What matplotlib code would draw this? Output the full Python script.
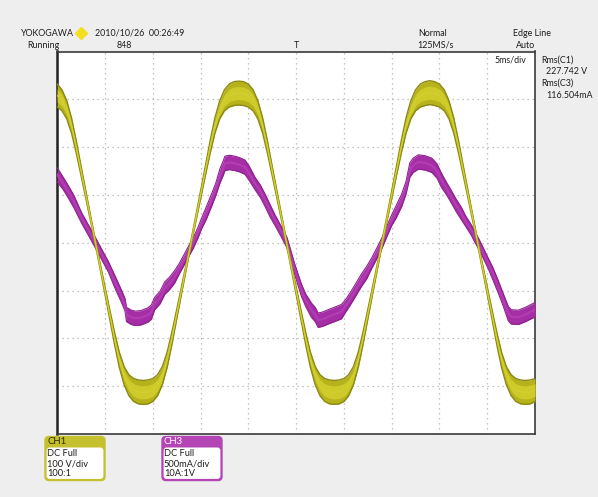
import numpy as np
import matplotlib
matplotlib.use("Agg")
import matplotlib.pyplot as plt
from matplotlib.patches import FancyBboxPatch

plt.rcParams['font.family'] = ['Lato', 'DejaVu Sans']

# ---------------- data read from the screen ----------------
# CH1 : voltage trace (centre of the persistence band, V) sampled every 0.5 ms
ch1_time_ms = np.round(np.arange(0, 50.01, 0.5), 2)
ch1_volt = [308, 298, 278, 245, 200, 150, 100, 50, 0, -50, -100, -150, -200, -245, -278, -298, -308, -312, -313, -312,
            -308, -298, -278, -245, -200, -150, -100, -50, 0, 50, 100, 150, 200, 245, 278, 298, 308, 312, 313, 312,
            308, 298, 278, 245, 200, 150, 100, 50, 0, -50, -100, -150, -200, -245, -278, -298, -308, -312, -313, -312,
            -308, -298, -278, -245, -200, -150, -100, -50, 0, 50, 100, 150, 200, 245, 278, 298, 308, 312, 314, 312,
            308, 298, 278, 245, 200, 150, 100, 50, 0, -50, -100, -150, -200, -245, -278, -298, -308, -312, -313, -312,
            -308]
# half spread of the persistence band (V)
ch1_spread = [24, 22, 19, 16, 13, 10, 8, 6, 5, 6, 8, 10, 13, 16, 19, 22, 24, 25, 25, 25,
              24, 22, 19, 16, 13, 10, 8, 6, 5, 6, 8, 10, 13, 16, 19, 22, 24, 25, 25, 25,
              24, 22, 19, 16, 13, 10, 8, 6, 5, 6, 8, 10, 13, 16, 19, 22, 24, 25, 25, 25,
              24, 22, 19, 16, 13, 10, 8, 6, 5, 6, 8, 10, 13, 16, 19, 22, 24, 25, 25, 25,
              24, 22, 19, 16, 13, 10, 8, 6, 5, 6, 8, 10, 13, 16, 19, 22, 24, 25, 25, 25,
              24]

# CH3 : current trace (centre of band, mA)
ch3_time_ms = [0, 0.6, 1.15, 1.75, 2.55, 3.25, 4.0, 4.75, 5.35, 6.0,
               6.75, 7.1, 7.25, 7.75, 8.15, 8.75, 9.5, 9.85, 10.2, 10.75,
               11.25, 11.75, 12.3, 12.75, 13.35, 13.75, 14.25, 14.75, 15.1, 15.6,
               16.15, 16.6, 17.05, 17.35, 17.55, 18.0, 18.6, 19.1, 19.65, 20.1,
               20.7, 21.25, 21.75, 22.25, 22.8, 23.4, 24.05, 24.85, 25.55, 26.0,
               26.6, 27.0, 27.3, 27.75, 28.35, 29.0, 29.75, 30.25, 30.8, 31.25,
               31.85, 32.4, 32.9, 33.5, 34.0, 34.5, 35.0, 35.5, 36.05, 36.5,
               36.9, 37.25, 37.8, 38.5, 39.2, 39.75, 40.2, 40.75, 41.25, 41.75,
               42.3, 42.75, 43.35, 43.7, 44.05, 44.5, 45.1, 45.6, 46.15, 46.65,
               47.2, 47.5, 48.25, 49.0, 49.5, 50.0]
ch3_current = [710, 625, 535, 430, 260, 135, 0, -140, -250, -400,
               -565, -650, -750, -780, -790, -785, -755, -725, -635, -575,
               -475, -425, -355, -275, -165, -90, 0, 110, 200, 310,
               445, 560, 705, 775, 830, 840, 830, 815, 790, 725,
               620, 540, 445, 340, 235, 125, 0, -275, -495, -600,
               -705, -750, -810, -800, -775, -750, -720, -650, -565, -490,
               -390, -310, -215, -100, 0, 120, 235, 330, 445, 575,
               760, 810, 845, 835, 810, 750, 655, 565, 480, 390,
               305, 225, 130, 60, 0, -90, -215, -325, -460, -590,
               -740, -775, -780, -750, -725, -700]

# scope settings
MS_PER_DIV = 5.0
V_PER_DIV = 100.0
MA_PER_DIV = 500.0

# ---------------- figure ----------------
W, H = 598, 497
fig = plt.figure(figsize=(W / 100, H / 100), dpi=100, facecolor='#eeeeee')
L, R, T, B = 57.2, 535.0, 51.5, 434.0
ax = fig.add_axes([L / W, 1 - B / H, (R - L) / W, (B - T) / H])
ax.set_facecolor('white')
ax.set_xlim(0, 10)
ax.set_ylim(-4, 4)
ax.set_xticks([])
ax.set_yticks([])
for s in ax.spines.values():
    s.set_color('#3a3a3a')
    s.set_linewidth(1.2)
ax.spines['left'].set_linewidth(1.8)
ax.spines['left'].set_color('#222222')

for k in range(1, 10):
    ax.axvline(k, color='#b0b0b0', lw=0.9, ls=(0, (1, 3.0)), zorder=1)
for k in range(-3, 4):
    ax.axhline(k, color='#b0b0b0', lw=0.9, ls=(0, (1, 3.0)), zorder=1)

# CH3 band
t3 = np.asarray(ch3_time_ms) / MS_PER_DIV
c3 = np.asarray(ch3_current, float) / MA_PER_DIV
half3 = np.where(np.abs(c3) > 1.3, 0.15, np.where(np.abs(c3) > 0.6, 0.13, 0.11))
ax.fill_between(t3, c3 - half3, c3 + half3, color='#a52da5', lw=0, zorder=3)
ax.plot(t3, c3 + half3, color='#8e208e', lw=0.8, zorder=3)
ax.plot(t3, c3 - half3, color='#8e208e', lw=0.8, zorder=3)
ax.plot(t3, c3, color='#b23db2', lw=1.6, zorder=3)

# CH1 band
t1 = np.asarray(ch1_time_ms) / MS_PER_DIV
c1 = np.asarray(ch1_volt, float) / V_PER_DIV
h1 = np.asarray(ch1_spread, float) / V_PER_DIV
ax.fill_between(t1, c1 - h1, c1 + h1, color='#b5b21c', lw=0, zorder=4)
ax.fill_between(t1, c1 - 0.55 * h1, c1 + 0.55 * h1, color='#cdca2a', lw=0, zorder=4)
ax.plot(t1, c1 + h1, color='#8c8914', lw=1.0, zorder=4)
ax.plot(t1, c1 - h1, color='#8c8914', lw=1.0, zorder=4)
ax.plot(t1, c1, color='#d2cf30', lw=1.0, zorder=4)

# ---------------- overlay in pixel coordinates ----------------
ov = fig.add_axes([0, 0, 1, 1])
ov.set_xlim(0, W)
ov.set_ylim(H, 0)
ov.axis('off')

FS = 6.4
txt = dict(fontsize=FS, color='#1e1e1e', va='center')
ov.text(21, 33, 'YOKOGAWA', ha='left', **txt)
ov.plot([80.5], [33], marker='D', ms=6.5, color='#f3df1c', mec='#f3df1c')
ov.text(95, 33, '2010/10/26  00:26:49', ha='left', **txt)
ov.text(27, 45, 'Running', ha='left', **txt)
ov.text(117, 45, '848', ha='left', **txt)
ov.text(296, 45, 'T', ha='center', **txt)
ov.text(433, 33, 'Normal', ha='center', **txt)
ov.text(435, 45, '125MS/s', ha='center', **txt)
ov.text(513, 33, 'Edge Line', ha='left', **txt)
ov.text(526, 45, 'Auto', ha='center', **txt)
ov.text(495, 60, '5ms/div', ha='left', **txt)
ov.text(541, 60, 'Rms(C1)', ha='left', **txt)
ov.text(546, 72, '227.742 V', ha='left', **txt)
ov.text(541, 83.5, 'Rms(C3)', ha='left', **txt)
ov.text(546, 95, '116.504mA', ha='left', **txt)


def channel_box(x0, x1, color, title, title_color, lines):
    y0, y1, yh = 436.5, 480.5, 447.5
    ov.add_patch(FancyBboxPatch((x0, y0), x1 - x0, y1 - y0,
                                boxstyle='round,pad=0,rounding_size=4',
                                fc=color, ec=color, lw=1.0, zorder=5))
    ov.add_patch(FancyBboxPatch((x0 + 1.6, yh), x1 - x0 - 3.2, y1 - yh - 1.6,
                                boxstyle='round,pad=0,rounding_size=3',
                                fc='white', ec='none', lw=0, zorder=6))
    ov.text(x0 + 2, 442, title, ha='left', va='center', fontsize=6.9,
            color=title_color, zorder=7)
    for k, s in enumerate(lines):
        ov.text(x0 + 2, 454 + 9.8 * k, s, ha='left', va='center', fontsize=6.7,
                color='#1e1e1e', zorder=7)


channel_box(45, 105, '#c4c02e', 'CH1', '#2a2a00', ['DC Full', '100 V/div', '100:1'])
channel_box(162, 222, '#b445b4', 'CH3', 'white', ['DC Full', '500mA/div', '10A:1V'])

fig.savefig('out.png', dpi=100, facecolor=fig.get_facecolor())
